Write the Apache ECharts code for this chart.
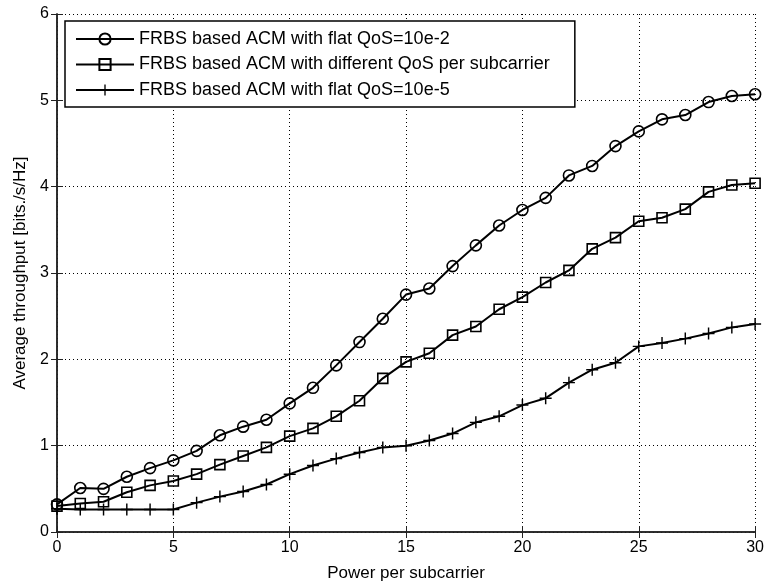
<!DOCTYPE html>
<html>
<head>
<meta charset="utf-8">
<script src="https://cdn.jsdelivr.net/npm/echarts@6/dist/echarts.min.js"></script>
<style>
  html, body { margin: 0; padding: 0; background: #fff; }
  #chart { width: 767px; height: 587px; }
</style>
</head>
<body>
<div id="chart"></div>
<script>
// power per subcarrier (x)
const power = [0, 1, 2, 3, 4, 5, 6, 7, 8, 9, 10, 11, 12, 13, 14, 15,
  16, 17, 18, 19, 20, 21, 22, 23, 24, 25, 26, 27, 28, 29, 30]

// average throughput
const flatQos2 = [0.32, 0.51, 0.50, 0.64, 0.74, 0.83, 0.94, 1.12, 1.22, 1.30, 1.49,
  1.67, 1.93, 2.20, 2.47, 2.75, 2.82, 3.08, 3.32, 3.55, 3.73, 3.87, 4.13, 4.24, 4.47,
  4.64, 4.78, 4.83, 4.98, 5.05, 5.07]
const diffQos = [0.30, 0.33, 0.35, 0.46, 0.54, 0.59, 0.67, 0.78, 0.88, 0.98, 1.11,
  1.20, 1.34, 1.52, 1.78, 1.97, 2.07, 2.28, 2.38, 2.58, 2.72, 2.89, 3.03, 3.28, 3.41,
  3.60, 3.64, 3.74, 3.94, 4.02, 4.04]
const flatQos5 = [0.27, 0.26, 0.26, 0.26, 0.26, 0.26, 0.34, 0.41, 0.47, 0.55, 0.67,
  0.77, 0.85, 0.92, 0.98, 1.00, 1.06, 1.14, 1.27, 1.34, 1.47, 1.55, 1.73, 1.88, 1.96,
  2.15, 2.19, 2.24, 2.30, 2.37, 2.41]

const seriesNames = [
  'FRBS based ACM with flat QoS=10e-2',
  'FRBS based ACM with different QoS per subcarrier',
  'FRBS based ACM with flat QoS=10e-5'
]

const FONT = 'Liberation Sans, Arial, sans-serif'
const plusPath = 'path://M4.4,0H5.6V10H4.4Z M0,4.4H10V5.6H0Z'

const pairs = vals => power.map((p, i) => [p, vals[i]])

const chart = echarts.init(document.getElementById('chart'))

const frameAxis = {
  axisLine: { show: true, lineStyle: { color: '#222', width: 1.5 } },
  axisTick: { show: true, inside: true, length: 6, lineStyle: { color: '#222' } }
}

function makeSeries(name, vals, symbol, size) {
  return {
    name: name,
    type: 'line',
    data: pairs(vals),
    symbol: symbol,
    symbolSize: size,
    showAllSymbol: true,
    lineStyle: { color: '#000', width: 2 },
    itemStyle: {
      color: symbol === plusPath ? '#000' : 'rgba(0,0,0,0)',
      borderColor: '#000',
      borderWidth: symbol === plusPath ? 0 : 1.6
    },
    emphasis: { disabled: true },
    animation: false
  }
}

const option = {
  backgroundColor: '#fff',
  animation: false,
  grid: { left: 57, right: 5, top: 14, bottom: 52 },
  legend: {
    left: 65,
    top: 21,
    orient: 'vertical',
    backgroundColor: '#fff',
    borderColor: '#000',
    borderWidth: 1.5,
    borderRadius: 0,
    padding: [9, 25, 8, 10],
    itemWidth: 58,
    itemHeight: 14,
    itemGap: 7.5,
    textStyle: { fontFamily: FONT, fontSize: 18, color: '#000' },
    data: seriesNames
  },
  xAxis: [
    Object.assign({
      type: 'value', min: 0, max: 30, interval: 5,
      name: 'Power per subcarrier',
      nameLocation: 'middle',
      nameGap: 33,
      nameTextStyle: { fontFamily: FONT, fontSize: 17, color: '#000' },
      axisLabel: { fontFamily: FONT, fontSize: 16, color: '#000', margin: 8 },
      splitLine: { show: true, lineStyle: { color: '#000', type: [1, 3], width: 1 } }
    }, frameAxis),
    Object.assign({
      type: 'value', min: 0, max: 30, interval: 5, position: 'top',
      axisLabel: { show: false }, splitLine: { show: false }
    }, frameAxis)
  ],
  yAxis: [
    Object.assign({
      type: 'value', min: 0, max: 6, interval: 1,
      name: 'Average throughput [bits./s/Hz]',
      nameLocation: 'middle',
      nameGap: 24,
      nameTextStyle: { fontFamily: FONT, fontSize: 17, color: '#000' },
      axisLabel: { fontFamily: FONT, fontSize: 16, color: '#000', margin: 8 },
      splitLine: { show: true, lineStyle: { color: '#000', type: [1, 3], width: 1 } }
    }, frameAxis),
    Object.assign({
      type: 'value', min: 0, max: 6, interval: 1, position: 'right',
      axisLabel: { show: false }, splitLine: { show: false }
    }, frameAxis)
  ],
  series: [
    makeSeries(seriesNames[0], flatQos2, 'circle', 11),
    makeSeries(seriesNames[1], diffQos, 'rect', 10),
    makeSeries(seriesNames[2], flatQos5, plusPath, 12)
  ]
}

chart.setOption(option)
</script>
</body>
</html>
